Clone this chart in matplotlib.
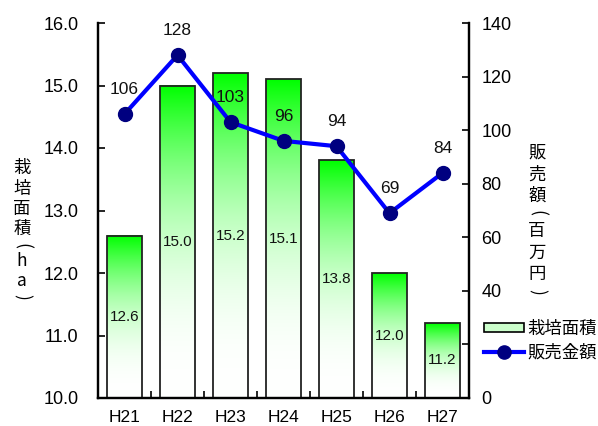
import numpy as np
import matplotlib
matplotlib.use("Agg")
import matplotlib.pyplot as plt
from matplotlib.colors import ListedColormap
from matplotlib.patches import Rectangle
from matplotlib.lines import Line2D

plt.rcParams['font.family'] = ['Liberation Sans', 'Noto Sans CJK JP', 'DejaVu Sans']

years = ["H21", "H22", "H23", "H24", "H25", "H26", "H27"]
area_ha = [12.6, 15.0, 15.2, 15.1, 13.8, 12.0, 11.2]
sales_million_yen = [106, 128, 103, 96, 94, 69, 84]

jp = ['Noto Sans CJK JP', 'DejaVu Sans']

fig = plt.figure(figsize=(5.98, 4.26), dpi=100)
ax = fig.add_axes([98/598, 28/426, (469-98)/598, (398-23)/426])
ax2 = ax.twinx()

x = np.arange(len(years))
bar_w = 0.66
ymin, ymax = 10.0, 16.0

# white at the base fading into pure green at the top of each bar
t = np.linspace(0, 1, 256)
g = t ** 2.3
cols = np.stack([1 - g, np.ones_like(g), 1 - g], axis=1)
cmap = ListedColormap(cols)
grad = t.reshape(-1, 1)

for xi, h in zip(x, area_ha):
    x0, x1 = xi - bar_w/2, xi + bar_w/2
    ax.imshow(grad, extent=(x0, x1, ymin, h), origin='lower', cmap=cmap,
              aspect='auto', zorder=2, interpolation='bilinear', vmin=0, vmax=1)
    ax.add_patch(Rectangle((x0, ymin), bar_w, h - ymin, fill=False,
                           edgecolor='#222222', linewidth=1.3, zorder=3))
    ax.text(xi, (ymin + h)/2, f"{h:.1f}", ha='center', va='center',
            fontsize=11, color='#111111', zorder=4)

ax.set_xlim(-0.5, len(years) - 0.5)
ax.set_ylim(ymin, ymax)
ax.set_yticks(np.arange(10, 16.01, 1.0))
ax.set_yticklabels([f"{v:.1f}" for v in np.arange(10, 16.01, 1.0)], fontsize=13)
ax.set_xticks(x)
ax.set_xticklabels(years, fontsize=12.5)
ax.set_xticks(np.arange(0.5, len(years) - 1, 1.0), minor=True)
ax.tick_params(axis='x', which='major', length=0, pad=9)
ax.tick_params(axis='x', which='minor', direction='in', length=5, width=1.2)
ax.tick_params(axis='y', direction='in', length=5, width=1.2, pad=14)

ax2.plot(x, sales_million_yen, color='#0000ff', linewidth=3, marker='o',
         markersize=10, markerfacecolor='#000080', markeredgecolor='#000080', zorder=5)
for xi, v in zip(x, sales_million_yen):
    ax2.text(xi, v + 7.5, f"{v}", ha='center', va='baseline', fontsize=12.5, color='#111111')
ax2.set_ylim(0, 140)
ax2.set_yticks(np.arange(0, 141, 20))
ax2.set_yticklabels([str(v) for v in range(0, 141, 20)], fontsize=13)
ax2.tick_params(axis='y', direction='in', length=5, width=1.2, pad=9)

for a in (ax, ax2):
    a.spines['top'].set_visible(False)
    for s in ('left', 'right', 'bottom'):
        a.spines[s].set_linewidth(1.6)
        a.spines[s].set_color('#000000')


def vertical_label(xpx, chars, ys):
    for ch, ypx in zip(chars, ys):
        rot = 0
        if ch in "()":
            rot = -90
        fig.text(xpx/598, 1 - ypx/426, ch, ha='center', va='center', rotation=rot,
                 fontsize=12.5, family=jp)


vertical_label(22, "栽培面積(ha)", [168, 189, 209, 229, 246, 261, 281, 297])
vertical_label(537, "販売額(百万円)", [153, 175, 196, 213, 231, 253, 274, 292])

handles = [Rectangle((0, 0), 1, 1, facecolor='#ccffcc', edgecolor='#000000', linewidth=1.2),
           Line2D([0], [0], color='#0000ff', linewidth=3, marker='o', markersize=9.5,
                  markerfacecolor='#000080', markeredgecolor='#000080')]
leg = fig.legend(handles, ["栽培面積", "販売金額"], loc='upper left',
                 bbox_to_anchor=(481/598, 1 - 317/426), frameon=True, framealpha=1,
                 prop={'family': jp, 'size': 12.5}, handlelength=2.3, handleheight=0.45,
                 handletextpad=0.2, labelspacing=0.35, borderaxespad=0, borderpad=0.15,
                 fancybox=False)
leg.get_frame().set_facecolor('white')
leg.get_frame().set_edgecolor('none')

fig.savefig("out.png", dpi=100)
